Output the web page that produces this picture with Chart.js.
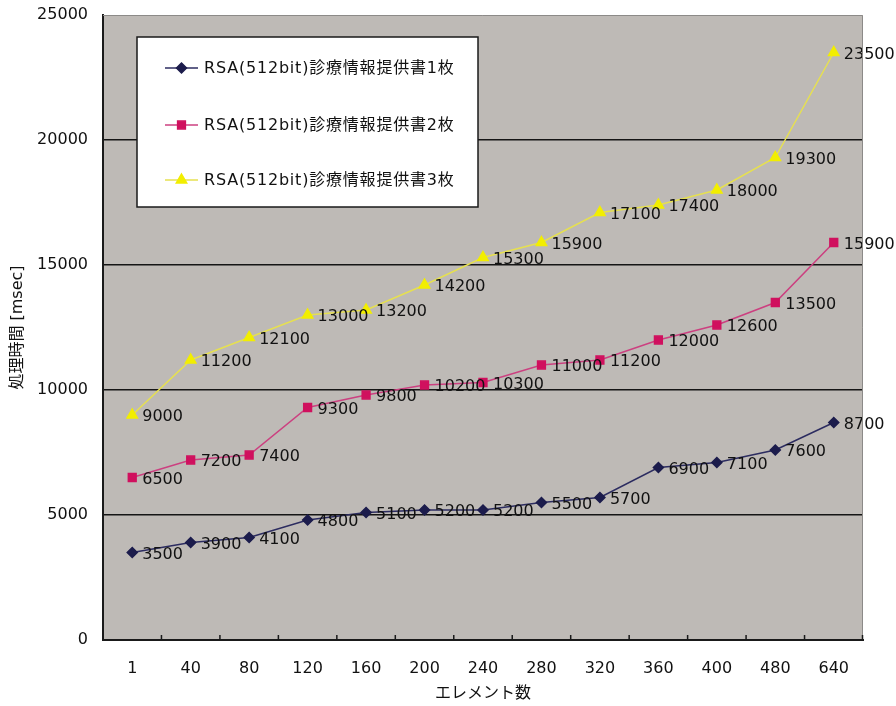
<!DOCTYPE html>
<html>
<head>
<meta charset="utf-8">
<style>
  html, body { margin: 0; padding: 0; background: #ffffff; }
  #wrap { width: 896px; height: 706px; }
</style>
<script src="https://cdn.jsdelivr.net/npm/chart.js@4/dist/chart.umd.min.js"></script>
</head>
<body>
<div id="wrap"><canvas id="chart" width="896" height="706"></canvas></div>
<script>
// Element counts along the horizontal axis
const elementCounts = ['1', '40', '80', '120', '160', '200', '240', '280', '320', '360', '400', '480', '640'];

// Processing time in msec, one array per number of documents
const oneDoc   = [3500, 3900, 4100, 4800, 5100, 5200, 5200, 5500, 5700, 6900, 7100, 7600, 8700];
const twoDocs  = [6500, 7200, 7400, 9300, 9800, 10200, 10300, 11000, 11200, 12000, 12600, 13500, 15900];
const threeDocs = [9000, 11200, 12100, 13000, 13200, 14200, 15300, 15900, 17100, 17400, 18000, 19300, 23500];

const seriesNames = [
  'RSA(512bit)診療情報提供書1枚',
  'RSA(512bit)診療情報提供書2枚',
  'RSA(512bit)診療情報提供書3枚'
];

const yTicks = [0, 5000, 10000, 15000, 20000, 25000];
const xTitle = 'エレメント数';
const yTitle = '処理時間 [msec]';

const FONT = '"DejaVu Sans", "Noto Sans CJK JP", sans-serif';
const TEXT = '#111111';

// Gray plot background plus the thin top/right frame
const plotBackground = {
  id: 'plotBackground',
  beforeDraw(chart) {
    const { ctx, chartArea: a } = chart;
    ctx.save();
    ctx.fillStyle = '#bebab6';
    ctx.fillRect(a.left, a.top, a.right - a.left, a.bottom - a.top);
    ctx.restore();
  },
  afterDraw(chart) {
    const { ctx, chartArea: a } = chart;
    ctx.save();
    ctx.strokeStyle = '#8c8a88';
    ctx.lineWidth = 1;
    ctx.beginPath();
    ctx.moveTo(a.left, a.top + 0.5);
    ctx.lineTo(a.right - 0.5, a.top + 0.5);
    ctx.lineTo(a.right - 0.5, a.bottom);
    ctx.stroke();
    ctx.restore();
  }
};

// Short inward tick marks between the categories on the bottom axis
const innerTicks = {
  id: 'innerTicks',
  afterDraw(chart) {
    const { ctx, chartArea: a } = chart;
    const x = chart.scales.x;
    ctx.save();
    ctx.strokeStyle = '#1a1a1a';
    ctx.lineWidth = 1.5;
    ctx.beginPath();
    for (let i = 0; i < elementCounts.length - 1; i++) {
      const px = (x.getPixelForValue(i) + x.getPixelForValue(i + 1)) / 2;
      ctx.moveTo(px, a.bottom);
      ctx.lineTo(px, a.bottom - 5);
    }
    ctx.moveTo(a.right - 0.5, a.bottom);
    ctx.lineTo(a.right - 0.5, a.bottom - 5);
    ctx.stroke();
    ctx.restore();
  }
};

// Value labels to the right of every point
const valueLabels = {
  id: 'valueLabels',
  afterDatasetsDraw(chart) {
    const { ctx } = chart;
    ctx.save();
    ctx.font = '16px ' + FONT;
    ctx.fillStyle = TEXT;
    ctx.textAlign = 'left';
    ctx.textBaseline = 'middle';
    chart.data.datasets.forEach((ds, di) => {
      const meta = chart.getDatasetMeta(di);
      meta.data.forEach((pt, i) => {
        ctx.fillText(String(ds.data[i]), pt.x + 10, pt.y + 2);
      });
    });
    ctx.restore();
  }
};

// Boxed legend inside the plot area
const boxedLegend = {
  id: 'boxedLegend',
  afterDraw(chart) {
    const { ctx, chartArea: a } = chart;
    const bx = a.left + 34, by = a.top + 22, bw = 341, bh = 170;
    ctx.save();
    ctx.fillStyle = '#ffffff';
    ctx.fillRect(bx, by, bw, bh);
    ctx.strokeStyle = '#1a1a1a';
    ctx.lineWidth = 1.5;
    ctx.strokeRect(bx, by, bw, bh);
    const rows = [by + 31, by + 88, by + 143];
    chart.data.datasets.forEach((ds, i) => {
      const y = rows[i];
      ctx.strokeStyle = ds.borderColor;
      ctx.lineWidth = 1.5;
      ctx.beginPath();
      ctx.moveTo(bx + 28, y);
      ctx.lineTo(bx + 61, y);
      ctx.stroke();
      ctx.fillStyle = ds.pointBackgroundColor;
      ctx.strokeStyle = ds.pointBorderColor;
      Chart.helpers.drawPoint(ctx, {
        pointStyle: ds.pointStyle,
        radius: ds.pointRadius,
        rotation: 0,
        borderWidth: 1
      }, bx + 44.5, y);
      ctx.font = '16px ' + FONT;
      ctx.letterSpacing = '0.8px';
      ctx.fillStyle = TEXT;
      ctx.textAlign = 'left';
      ctx.textBaseline = 'middle';
      ctx.fillText(ds.label, bx + 67, y + 1);
      ctx.letterSpacing = '0px';
    });
    ctx.restore();
  }
};

// Axis titles
const axisTitles = {
  id: 'axisTitles',
  afterDraw(chart) {
    const { ctx, chartArea: a } = chart;
    ctx.save();
    ctx.font = '16px ' + FONT;
    ctx.fillStyle = TEXT;
    ctx.textAlign = 'center';
    ctx.textBaseline = 'middle';
    ctx.fillText(xTitle, (a.left + a.right) / 2, 694);
    ctx.translate(18, (a.top + a.bottom) / 2);
    ctx.rotate(-Math.PI / 2);
    ctx.fillText(yTitle, 0, 0);
    ctx.restore();
  }
};

new Chart(document.getElementById('chart'), {
  type: 'line',
  data: {
    labels: elementCounts,
    datasets: [
      {
        label: seriesNames[0],
        data: oneDoc,
        borderColor: '#2c2c60',
        borderWidth: 1.5,
        pointStyle: 'rectRot',
        pointRadius: 5,
        pointBackgroundColor: '#1c1c4c',
        pointBorderColor: '#1c1c4c',
        tension: 0
      },
      {
        label: seriesNames[1],
        data: twoDocs,
        borderColor: '#cc4080',
        borderWidth: 1.5,
        pointStyle: 'rect',
        pointRadius: 5.5,
        pointBackgroundColor: '#d0105e',
        pointBorderColor: '#d0105e',
        tension: 0
      },
      {
        label: seriesNames[2],
        data: threeDocs,
        borderColor: '#e6e050',
        borderWidth: 1.5,
        pointStyle: 'triangle',
        pointRadius: 6,
        pointBackgroundColor: '#f2ee00',
        pointBorderColor: '#f2ee00',
        tension: 0
      }
    ]
  },
  options: {
    responsive: false,
    animation: false,
    devicePixelRatio: 1,
    layout: { padding: { top: 15, right: 33, left: 0, bottom: 0 } },
    plugins: {
      legend: { display: false },
      tooltip: { enabled: false }
    },
    scales: {
      x: {
        type: 'category',
        offset: true,
        grid: { display: false, drawTicks: false },
        border: { display: true, color: '#1a1a1a', width: 2 },
        ticks: {
          color: TEXT,
          font: { family: FONT, size: 16 },
          padding: 19,
          maxRotation: 0,
          autoSkip: false
        },
        afterFit(scale) { scale.height = 66; }
      },
      y: {
        min: 0,
        max: 25000,
        afterBuildTicks(scale) { scale.ticks = yTicks.map(v => ({ value: v })); },
        grid: {
          drawTicks: false,
          lineWidth: 1.5,
          color(ctx) {
            const v = ctx.tick && ctx.tick.value;
            if (v === 0 || v === 25000) return 'rgba(0,0,0,0)';
            return '#151515';
          }
        },
        border: { display: true, color: '#1a1a1a', width: 2 },
        ticks: {
          color: TEXT,
          font: { family: FONT, size: 16 },
          padding: 15,
          callback: (v) => String(v)
        },
        afterFit(scale) {
          scale.width = 103;
          scale.paddingTop = 0;
          scale.paddingBottom = 0;
        }
      }
    }
  },
  plugins: [plotBackground, innerTicks, valueLabels, boxedLegend, axisTitles]
});
</script>
</body>
</html>
